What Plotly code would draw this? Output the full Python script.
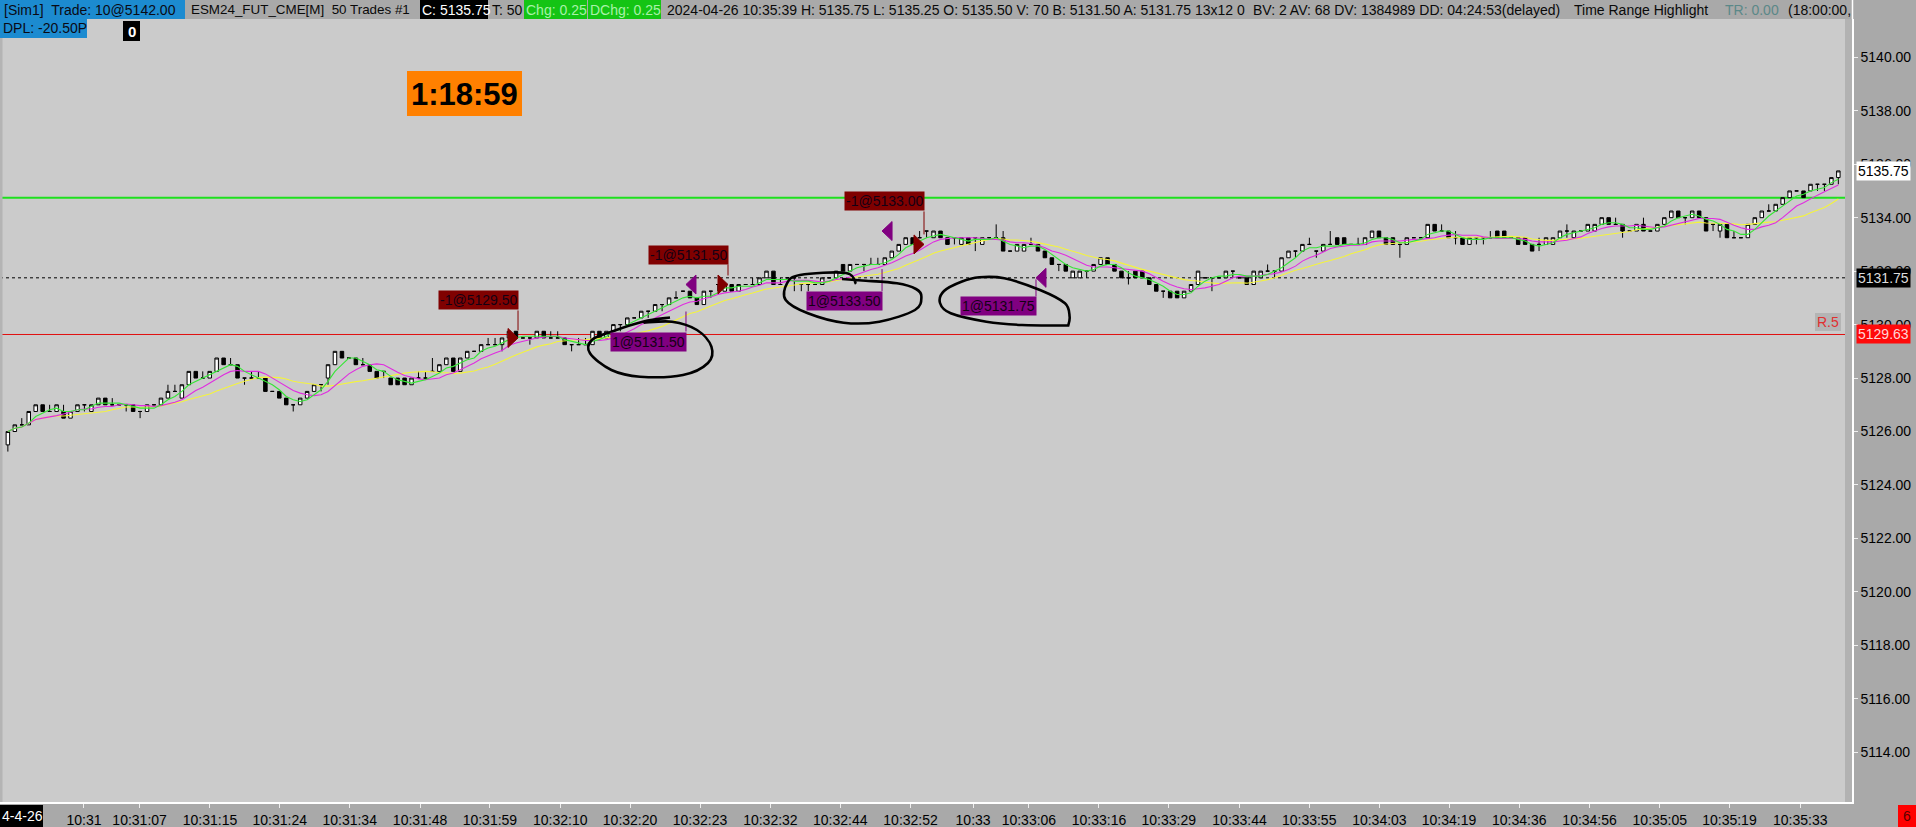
import plotly.graph_objects as go
import pandas as pd

# ---------------- data (50-trade bars, ESM24) ----------------
opens = [
    5125.50, 5126.00, 5126.25, 5126.25, 5126.75, 5127.00, 5126.75, 5126.75, 5126.75, 5126.50,
    5126.75, 5127.00, 5126.75, 5127.00, 5127.25, 5127.00, 5127.00, 5127.00, 5127.00, 5126.75,
    5126.75, 5127.00, 5127.00, 5127.25, 5127.50, 5127.25, 5127.75, 5128.25, 5128.00, 5128.00,
    5128.25, 5128.75, 5128.50, 5128.50, 5128.00, 5128.00, 5128.00, 5128.00, 5127.50, 5127.50,
    5127.25, 5127.00, 5127.00, 5127.25, 5127.50, 5127.75, 5128.00, 5128.50, 5129.00, 5128.75,
    5128.75, 5128.50, 5128.50, 5128.25, 5128.25, 5128.00, 5128.00, 5128.00, 5127.75, 5128.00,
    5128.00, 5128.25, 5128.25, 5128.50, 5128.75, 5128.25, 5128.75, 5129.00, 5129.00, 5129.25,
    5129.25, 5129.25, 5129.50, 5129.75, 5129.50, 5129.50, 5129.50, 5129.75, 5129.50, 5129.50,
    5129.50, 5129.25, 5129.25, 5129.25, 5129.25, 5129.75, 5129.50, 5129.75, 5130.00, 5130.00,
    5130.25, 5130.25, 5130.50, 5130.50, 5130.75, 5130.75, 5131.00, 5131.25, 5131.25, 5131.00,
    5130.75, 5131.25, 5131.50, 5131.25, 5131.50, 5131.25, 5131.50, 5131.50, 5131.50, 5131.75,
    5132.00, 5131.50, 5131.75, 5131.75, 5131.50, 5131.50, 5131.50, 5131.50, 5131.75, 5131.75,
    5132.25, 5132.00, 5132.25, 5132.25, 5132.25, 5132.25, 5132.25, 5132.50, 5132.75, 5133.00,
    5133.25, 5133.25, 5133.50, 5133.25, 5133.50, 5133.25, 5133.25, 5133.00, 5133.25, 5133.25,
    5133.00, 5133.25, 5133.25, 5133.25, 5132.75, 5132.75, 5132.75, 5133.00, 5133.00, 5132.75,
    5132.50, 5132.25, 5132.25, 5131.75, 5131.75, 5132.00, 5132.00, 5132.25, 5132.50, 5132.25,
    5132.00, 5131.75, 5132.00, 5132.00, 5131.75, 5131.50, 5131.25, 5131.25, 5131.25, 5131.00,
    5131.25, 5131.50, 5131.75, 5131.75, 5131.75, 5131.75, 5132.00, 5131.75, 5131.75, 5131.50,
    5131.75, 5132.00, 5132.00, 5132.00, 5132.50, 5132.75, 5132.75, 5133.00, 5132.75, 5132.75,
    5133.00, 5133.25, 5133.25, 5133.00, 5133.00, 5133.00, 5133.25, 5133.50, 5133.25, 5133.25,
    5133.00, 5133.00, 5133.25, 5133.25, 5133.25, 5133.75, 5133.50, 5133.50, 5133.25, 5133.25,
    5133.00, 5133.25, 5133.25, 5133.25, 5133.50, 5133.50, 5133.25, 5133.25, 5133.25, 5133.00,
    5133.00, 5133.00, 5133.00, 5133.25, 5133.50, 5133.25, 5133.50, 5133.50, 5133.50, 5133.75,
    5134.00, 5133.75, 5133.75, 5133.50, 5133.50, 5133.75, 5133.50, 5133.50, 5133.75, 5134.00,
    5134.25, 5134.00, 5134.00, 5134.25, 5134.00, 5133.75, 5133.50, 5133.75, 5133.25, 5133.25,
    5133.25, 5133.75, 5134.00, 5134.25, 5134.25, 5134.50, 5134.75, 5135.00, 5135.00, 5135.00,
    5135.25, 5135.25, 5135.25, 5135.50,
]
highs = [
    5126.00, 5126.25, 5126.50, 5126.75, 5127.00, 5127.00, 5127.00, 5127.00, 5127.00, 5126.75,
    5127.00, 5127.00, 5127.00, 5127.25, 5127.25, 5127.25, 5127.00, 5127.00, 5127.00, 5126.75,
    5127.00, 5127.00, 5127.25, 5127.75, 5127.75, 5127.75, 5128.25, 5128.25, 5128.25, 5128.25,
    5128.75, 5128.75, 5128.75, 5128.50, 5128.00, 5128.25, 5128.25, 5128.00, 5127.50, 5127.50,
    5127.25, 5127.00, 5127.25, 5127.50, 5127.75, 5127.75, 5128.50, 5129.00, 5129.00, 5128.75,
    5128.75, 5128.75, 5128.50, 5128.25, 5128.25, 5128.00, 5128.00, 5128.00, 5128.00, 5128.25,
    5128.25, 5128.75, 5128.50, 5128.75, 5128.75, 5128.75, 5129.00, 5129.00, 5129.25, 5129.50,
    5129.50, 5129.50, 5129.75, 5129.75, 5129.50, 5129.50, 5129.75, 5129.75, 5129.75, 5129.75,
    5129.50, 5129.25, 5129.50, 5129.50, 5129.75, 5129.75, 5129.75, 5130.00, 5130.00, 5130.25,
    5130.25, 5130.50, 5130.50, 5130.75, 5130.75, 5131.00, 5131.25, 5131.25, 5131.25, 5131.00,
    5131.25, 5131.25, 5131.50, 5131.50, 5131.50, 5131.50, 5131.50, 5131.75, 5131.75, 5132.00,
    5132.00, 5131.75, 5131.75, 5131.75, 5131.50, 5131.50, 5131.50, 5131.75, 5131.75, 5132.00,
    5132.25, 5132.25, 5132.25, 5132.25, 5132.50, 5132.50, 5132.50, 5132.75, 5133.00, 5133.25,
    5133.25, 5133.50, 5133.50, 5133.50, 5133.50, 5133.25, 5133.25, 5133.25, 5133.25, 5133.25,
    5133.25, 5133.25, 5133.75, 5133.50, 5132.75, 5133.00, 5133.00, 5133.25, 5133.00, 5132.75,
    5132.50, 5132.25, 5132.25, 5132.00, 5132.00, 5132.00, 5132.25, 5132.50, 5132.50, 5132.25,
    5132.00, 5132.00, 5132.00, 5132.00, 5131.75, 5131.50, 5131.25, 5131.25, 5131.25, 5131.25,
    5131.50, 5132.00, 5131.75, 5131.75, 5131.75, 5132.00, 5132.00, 5131.75, 5131.75, 5132.00,
    5132.00, 5132.25, 5132.00, 5132.50, 5132.75, 5132.75, 5133.00, 5133.25, 5132.75, 5133.00,
    5133.50, 5133.25, 5133.25, 5133.00, 5133.25, 5133.25, 5133.50, 5133.50, 5133.25, 5133.25,
    5133.00, 5133.25, 5133.25, 5133.25, 5133.75, 5133.75, 5133.75, 5133.50, 5133.50, 5133.25,
    5133.25, 5133.25, 5133.25, 5133.50, 5133.50, 5133.50, 5133.25, 5133.25, 5133.25, 5133.00,
    5133.25, 5133.25, 5133.25, 5133.50, 5133.75, 5133.50, 5133.50, 5133.75, 5133.75, 5134.00,
    5134.00, 5134.00, 5133.75, 5133.50, 5133.75, 5134.00, 5133.50, 5133.75, 5134.00, 5134.25,
    5134.25, 5134.00, 5134.25, 5134.25, 5134.00, 5133.75, 5133.75, 5133.75, 5133.50, 5133.25,
    5133.75, 5134.00, 5134.25, 5134.50, 5134.50, 5134.75, 5135.00, 5135.00, 5135.00, 5135.25,
    5135.25, 5135.25, 5135.50, 5135.75,
]
lows = [
    5125.25, 5126.00, 5126.25, 5126.25, 5126.75, 5126.75, 5126.75, 5126.75, 5126.50, 5126.50,
    5126.75, 5126.75, 5126.75, 5127.00, 5127.00, 5127.00, 5127.00, 5126.75, 5126.75, 5126.50,
    5126.75, 5127.00, 5127.00, 5127.25, 5127.50, 5127.25, 5127.75, 5128.00, 5128.00, 5128.00,
    5128.25, 5128.50, 5128.50, 5128.00, 5127.75, 5128.00, 5128.00, 5127.50, 5127.50, 5127.25,
    5127.00, 5126.75, 5127.00, 5127.25, 5127.50, 5127.50, 5127.75, 5128.50, 5128.75, 5128.75,
    5128.50, 5128.50, 5128.25, 5128.00, 5128.00, 5127.75, 5127.75, 5127.75, 5127.75, 5128.00,
    5128.00, 5128.25, 5128.25, 5128.50, 5128.25, 5128.25, 5128.75, 5129.00, 5129.00, 5129.25,
    5129.25, 5129.00, 5129.50, 5129.50, 5129.50, 5129.25, 5129.50, 5129.50, 5129.50, 5129.50,
    5129.25, 5129.00, 5129.25, 5129.25, 5129.25, 5129.50, 5129.50, 5129.75, 5129.75, 5130.00,
    5130.25, 5130.25, 5130.25, 5130.50, 5130.50, 5130.75, 5131.00, 5131.25, 5131.00, 5130.75,
    5130.75, 5131.00, 5131.25, 5131.25, 5131.25, 5131.25, 5131.50, 5131.50, 5131.50, 5131.75,
    5131.50, 5131.50, 5131.75, 5131.25, 5131.25, 5131.25, 5131.50, 5131.50, 5131.75, 5131.75,
    5132.00, 5132.00, 5132.25, 5132.00, 5132.25, 5132.25, 5132.25, 5132.50, 5132.75, 5133.00,
    5133.00, 5133.25, 5133.25, 5133.25, 5133.25, 5133.00, 5133.00, 5133.00, 5133.00, 5132.75,
    5133.00, 5133.25, 5133.25, 5132.75, 5132.75, 5132.75, 5132.75, 5133.00, 5132.75, 5132.50,
    5132.25, 5132.00, 5132.00, 5131.75, 5131.75, 5131.75, 5132.00, 5132.25, 5132.25, 5132.00,
    5131.75, 5131.50, 5131.75, 5131.75, 5131.50, 5131.25, 5131.00, 5131.00, 5131.00, 5131.00,
    5131.25, 5131.50, 5131.75, 5131.25, 5131.75, 5131.75, 5131.75, 5131.75, 5131.50, 5131.50,
    5131.75, 5132.00, 5131.75, 5132.00, 5132.50, 5132.50, 5132.75, 5133.00, 5132.50, 5132.75,
    5133.00, 5133.00, 5133.00, 5133.00, 5133.00, 5133.00, 5133.25, 5133.25, 5133.00, 5133.00,
    5132.50, 5133.00, 5133.25, 5133.25, 5133.25, 5133.50, 5133.50, 5133.25, 5133.00, 5133.00,
    5133.00, 5133.00, 5133.00, 5133.25, 5133.25, 5133.25, 5133.25, 5133.00, 5133.00, 5132.75,
    5132.75, 5133.00, 5133.00, 5133.25, 5133.25, 5133.25, 5133.50, 5133.50, 5133.50, 5133.75,
    5133.75, 5133.75, 5133.25, 5133.50, 5133.50, 5133.50, 5133.50, 5133.50, 5133.75, 5134.00,
    5134.00, 5133.75, 5134.00, 5134.00, 5133.50, 5133.50, 5133.25, 5133.25, 5133.25, 5133.25,
    5133.25, 5133.75, 5134.00, 5134.25, 5134.25, 5134.50, 5134.75, 5135.00, 5134.75, 5135.00,
    5135.00, 5135.00, 5135.25, 5135.25,
]
closes = [
    5126.00, 5126.25, 5126.25, 5126.75, 5127.00, 5126.75, 5126.75, 5127.00, 5126.50, 5126.75,
    5127.00, 5127.00, 5127.00, 5127.25, 5127.00, 5127.00, 5127.00, 5127.00, 5126.75, 5126.75,
    5127.00, 5127.00, 5127.25, 5127.50, 5127.50, 5127.75, 5128.25, 5128.00, 5128.00, 5128.25,
    5128.75, 5128.50, 5128.50, 5128.00, 5128.00, 5128.00, 5128.00, 5127.50, 5127.50, 5127.25,
    5127.00, 5127.00, 5127.25, 5127.50, 5127.75, 5127.75, 5128.50, 5129.00, 5128.75, 5128.75,
    5128.50, 5128.50, 5128.25, 5128.00, 5128.25, 5127.75, 5127.75, 5127.75, 5128.00, 5128.00,
    5128.00, 5128.25, 5128.50, 5128.75, 5128.25, 5128.75, 5129.00, 5129.00, 5129.25, 5129.25,
    5129.25, 5129.50, 5129.75, 5129.50, 5129.50, 5129.50, 5129.75, 5129.50, 5129.50, 5129.50,
    5129.25, 5129.25, 5129.25, 5129.25, 5129.75, 5129.50, 5129.75, 5130.00, 5130.00, 5130.25,
    5130.25, 5130.50, 5130.50, 5130.75, 5130.75, 5131.00, 5131.00, 5131.25, 5131.00, 5130.75,
    5131.25, 5131.25, 5131.50, 5131.50, 5131.25, 5131.50, 5131.50, 5131.50, 5131.75, 5132.00,
    5131.50, 5131.50, 5131.75, 5131.75, 5131.50, 5131.50, 5131.50, 5131.75, 5131.75, 5132.00,
    5132.00, 5132.25, 5132.25, 5132.25, 5132.25, 5132.25, 5132.50, 5132.75, 5133.00, 5133.25,
    5133.00, 5133.25, 5133.50, 5133.50, 5133.25, 5133.00, 5133.25, 5133.25, 5133.00, 5133.25,
    5133.25, 5133.25, 5133.25, 5132.75, 5132.75, 5133.00, 5133.00, 5133.00, 5132.75, 5132.50,
    5132.25, 5132.25, 5132.00, 5132.00, 5132.00, 5132.00, 5132.25, 5132.50, 5132.25, 5132.00,
    5131.75, 5131.75, 5131.75, 5131.75, 5131.50, 5131.25, 5131.25, 5131.00, 5131.00, 5131.25,
    5131.50, 5132.00, 5131.75, 5131.75, 5131.75, 5132.00, 5132.00, 5131.75, 5131.50, 5132.00,
    5132.00, 5132.00, 5132.00, 5132.50, 5132.75, 5132.75, 5133.00, 5133.00, 5132.75, 5133.00,
    5133.00, 5133.00, 5133.00, 5133.00, 5133.00, 5133.25, 5133.50, 5133.25, 5133.00, 5133.00,
    5133.00, 5133.25, 5133.25, 5133.25, 5133.75, 5133.50, 5133.50, 5133.25, 5133.25, 5133.00,
    5133.25, 5133.25, 5133.25, 5133.25, 5133.25, 5133.25, 5133.25, 5133.00, 5133.00, 5132.75,
    5133.00, 5133.25, 5133.25, 5133.50, 5133.50, 5133.50, 5133.50, 5133.75, 5133.75, 5134.00,
    5133.75, 5133.75, 5133.50, 5133.50, 5133.75, 5133.50, 5133.50, 5133.75, 5134.00, 5134.25,
    5134.00, 5134.00, 5134.25, 5134.00, 5133.50, 5133.75, 5133.75, 5133.25, 5133.25, 5133.25,
    5133.75, 5134.00, 5134.25, 5134.25, 5134.50, 5134.75, 5135.00, 5135.00, 5134.75, 5135.25,
    5135.25, 5135.25, 5135.50, 5135.75,
]

x_tick_labels = ["10:31", "10:31:07", "10:31:15", "10:31:24", "10:31:34", "10:31:48", "10:31:59",
                 "10:32:10", "10:32:20", "10:32:23", "10:32:32", "10:32:44", "10:32:52", "10:33",
                 "10:33:06", "10:33:16", "10:33:29", "10:33:44", "10:33:55", "10:34:03", "10:34:19",
                 "10:34:36", "10:34:56", "10:35:05", "10:35:19", "10:35:33"]
x_tick_bars = [10.93, 18.93, 29.04, 39.07, 49.11, 59.23, 69.26, 79.37, 89.40, 99.45, 109.56,
               119.59, 129.70, 138.68, 146.70, 156.77, 166.79, 176.97, 186.97, 197.06, 207.06,
               217.16, 227.26, 237.35, 247.35, 257.53]
y_tick_values = [5114, 5116, 5118, 5120, 5122, 5124, 5126, 5128, 5130, 5132, 5134, 5136, 5138, 5140]

trade_texts = ["-1@5129.50", "1@5131.50", "-1@5131.50", "1@5133.50", "-1@5133.00", "1@5131.75"]
trade_prices = [5129.50, 5131.50, 5131.50, 5133.50, 5133.00, 5131.75]
trade_sides = ["sell", "buy", "sell", "buy", "sell", "buy"]
trade_bars = [73.30, 97.43, 103.47, 125.60, 131.63, 147.72]

level_green = 5134.75
level_red = 5129.63
level_dashed = 5131.75
last_price = 5135.75
timer_text = "1:18:59"

# ---------------- geometry (pixels) ----------------
W, H = 1916, 827
PL, PR, PT, PB = 0, 1852, 19, 802
BAR0, BARW = 7.86, 6.96
PY0, PRICE0, PPT = 57.3, 5140.0, 26.73
FONT = "Liberation Sans, Arial, sans-serif"

x_range = [(PL - BAR0) / BARW, (PR - BAR0) / BARW]
y_range = [PRICE0 - (PB - PY0) / PPT, PRICE0 + (PY0 - PT) / PPT]


def fx(px):
    return (px - PL) / (PR - PL)


def fy(py):
    return (PB - py) / (PB - PT)


shapes = []
annotations = []


def rect_px(x0, y0, x1, y1, fill, layer="above"):
    shapes.append(dict(type="rect", xref="paper", yref="paper", x0=fx(x0), x1=fx(x1),
                       y0=fy(y1), y1=fy(y0), fillcolor=fill, line=dict(width=0), layer=layer))


def text_px(x, y, s, color, size=14, anchor="left"):
    annotations.append(dict(xref="paper", yref="paper", x=fx(x), y=fy(y), xanchor=anchor,
                            yanchor="middle", text=s, showarrow=False, borderpad=0,
                            font=dict(family=FONT, size=size, color=color)))


def smooth_path(pts):
    P = [(fx(a), fy(b)) for a, b in pts]
    d = "M %.5f,%.5f" % P[0]
    for i in range(len(P) - 1):
        p0 = P[i - 1] if i > 0 else P[i]
        p1, p2 = P[i], P[i + 1]
        p3 = P[i + 2] if i + 2 < len(P) else P[i + 1]
        c1 = (p1[0] + (p2[0] - p0[0]) / 6, p1[1] + (p2[1] - p0[1]) / 6)
        c2 = (p2[0] - (p3[0] - p1[0]) / 6, p2[1] - (p3[1] - p1[1]) / 6)
        d += " C %.5f,%.5f %.5f,%.5f %.5f,%.5f" % (c1 + c2 + p2)
    return d


# ---------------- traces ----------------
n = len(closes)
bars = list(range(n))
cl = pd.Series(closes)
ma_fast = cl.rolling(4, min_periods=1).mean()
ma_mid = cl.rolling(8, min_periods=1).mean()
ma_slow = cl.rolling(15, min_periods=1).mean()

fig = go.Figure()
fig.add_trace(go.Candlestick(
    x=bars, open=opens, high=highs, low=lows, close=closes,
    increasing=dict(fillcolor="#ffffff", line=dict(color="#000000", width=1)),
    decreasing=dict(fillcolor="#000000", line=dict(color="#000000", width=1)),
    whiskerwidth=0, hoverinfo="skip", showlegend=False))
fig.add_trace(go.Scatter(x=bars, y=ma_slow, mode="lines", line=dict(color="#f4f43c", width=1.1),
                         hoverinfo="skip", showlegend=False))
fig.add_trace(go.Scatter(x=bars, y=ma_mid, mode="lines", line=dict(color="#e02ce0", width=1.1),
                         hoverinfo="skip", showlegend=False))
fig.add_trace(go.Scatter(x=bars, y=ma_fast, mode="lines", line=dict(color="#36e636", width=1.1),
                         hoverinfo="skip", showlegend=False))

# ---------------- horizontal levels ----------------
x_end = fx(1845)
shapes.append(dict(type="line", xref="paper", yref="y", x0=0, x1=x_end, y0=level_red, y1=level_red,
                   line=dict(color="#e01010", width=1), layer="below"))
shapes.append(dict(type="line", xref="paper", yref="y", x0=0, x1=x_end, y0=level_dashed, y1=level_dashed,
                   line=dict(color="#000000", width=1, dash="3px,3px"), layer="below"))
shapes.append(dict(type="line", xref="paper", yref="y", x0=0, x1=x_end, y0=level_green, y1=level_green,
                   line=dict(color="#1ee01e", width=2), layer="below"))

# right strip, left border, white frame
rect_px(1845, PT, PR, PB, "#b2b2b2")
rect_px(0, PT, 2.5, PB, "#b4b4b4")
shapes.append(dict(type="line", xref="paper", yref="paper", x0=fx(1852.5), x1=fx(1852.5),
                   y0=fy(0), y1=fy(PT), line=dict(color="#ffffff", width=1.5)))

# ---------------- trades ----------------
label_dy = [-37.5, 57, -30, 70, -43, 28.5]      # label centre offset from marker (px, +down)
conn_len = [20, 20, 11, 22, 23, 17]             # connector length (px)
tri_w, tri_h = 10 / BARW, 9.5 / PPT
for b, p, t, side, dy, cl_len in zip(trade_bars, trade_prices, trade_texts, trade_sides, label_dy, conn_len):
    col = "#800000" if side == "sell" else "#800080"
    if side == "sell":
        path = "M %.4f,%.4f L %.4f,%.4f L %.4f,%.4f Z" % (b - tri_w, p + tri_h, b, p, b - tri_w, p - tri_h)
    else:
        path = "M %.4f,%.4f L %.4f,%.4f L %.4f,%.4f Z" % (b + tri_w, p + tri_h, b, p, b + tri_w, p - tri_h)
    shapes.append(dict(type="path", xref="x", yref="y", path=path, fillcolor=col,
                       line=dict(color=col, width=1), layer="above"))
    edge = dy + (10 if dy < 0 else -10)
    y_edge = p - edge / PPT
    y_far = p - (edge + (cl_len if dy < 0 else -cl_len)) / PPT
    shapes.append(dict(type="line", xref="x", yref="y", x0=b, x1=b, y0=y_edge, y1=y_far,
                       line=dict(color=col, width=1), layer="above"))
    annotations.append(dict(xref="x", yref="y", x=b, y=p, xanchor="right", yanchor="middle",
                            xshift=1, yshift=-dy, text=t, showarrow=False, bgcolor=col, borderpad=1,
                            font=dict(family=FONT, size=14, color="#140014")))

# hand-drawn loops
loops = [
    [(643.6, 322.7), (672, 321.7), (697, 330), (711.4, 346.7), (708, 363), (683, 375), (640, 376.7),
     (611.4, 370), (590, 353.3), (591.8, 340), (611.4, 331.7), (643.6, 321.5), (670, 317.5)],
    [(856, 284), (846, 273), (800, 275), (787, 283.3), (785.7, 300), (807.9, 313.3), (843.6, 322.7),
     (879.3, 321.7), (915, 310), (921.4, 296.7), (916, 289), (897, 283.3), (862, 280.5), (842, 279)],
    [(1068.6, 325.5), (1022, 325), (986.4, 321.7), (950.7, 313.3), (940, 303), (944, 291), (961.4, 281.7),
     (979.3, 277.3), (1004.3, 278.3), (1040, 290), (1065, 303.3), (1069.6, 316.7), (1068, 326.5)],
]
for pts in loops:
    shapes.append(dict(type="path", xref="paper", yref="paper", path=smooth_path(pts),
                       line=dict(color="#000000", width=2.6), layer="above"))

# ---------------- header ----------------
rect_px(0, 0, 185, 19, "#1c8bd0")
rect_px(420, 0, 488, 19, "#000000")
rect_px(524, 0, 587, 19, "#14c414")
rect_px(588, 0, 661, 19, "#14c414")
header = [
    ("[Sim1]&nbsp; Trade: 10@5142.00", 3, "#0a0a14", 14),
    ("ESM24_FUT_CME[M]&nbsp; 50 Trades #1", 190, "#0a0a0a", 13.4),
    ("C: 5135.75", 421, "#ffffff", 14),
    ("T: 50", 491, "#0a0a0a", 14),
    ("Chg: 0.25", 525, "#a8f2a8", 14),
    ("DChg: 0.25", 589, "#a8f2a8", 14),
    ("2024-04-26 10:35:39 H: 5135.75 L: 5135.25 O: 5135.50 V: 70 B: 5131.50 A: 5131.75 13x12 0", 666, "#0a0a0a", 14),
    ("BV: 2 AV: 68 DV: 1384989 DD: 04:24:53(delayed)", 1252, "#0a0a0a", 14),
    ("Time Range Highlight", 1573, "#0a0a0a", 14),
    ("TR: 0.00", 1724, "#5b8888", 14),
    ("(18:00:00,", 1787, "#0a0a0a", 14),
]
for s, x0, c, fs in header:
    text_px(x0, 9.5, s, c, size=fs)

rect_px(0, 19, 87, 38, "#1c8bd0")
text_px(2, 28.5, "DPL: -20.50P", "#0a0a14")
rect_px(123, 21, 140, 41, "#000000")
text_px(131.5, 31, "<b>0</b>", "#ffffff", size=15, anchor="center")

# timer
rect_px(407, 71, 522, 116, "#ff8000")
text_px(464.5, 94, "<b>" + timer_text + "</b>", "#000000", size=31, anchor="center")

# R.5 label
rect_px(1815, 313, 1841, 331, "#b4b4b4")
text_px(1828, 322, "R.5", "#e03030", size=14, anchor="center")

# price boxes on axis
for v, bg, fg in [(last_price, "#ffffff", "#000000"), (level_dashed, "#000000", "#dcdcdc"),
                  (level_red, "#ff0a0a", "#ffd6d6")]:
    annotations.append(dict(xref="paper", yref="y", x=fx(1856), y=v, xanchor="left", yanchor="middle",
                            text="%.2f" % v, showarrow=False, bgcolor=bg, borderpad=1,
                            font=dict(family=FONT, size=14, color=fg)))

# bottom corner boxes
rect_px(0, 805, 43, 827, "#000000")
text_px(1, 816, "4-4-26", "#ffffff")
rect_px(1898, 805, 1916, 827, "#ff0000")
text_px(1907, 816, "6", "#5a0000", anchor="center")

fig.update_layout(
    width=W, height=H,
    margin=dict(l=PL, r=W - PR, t=PT, b=H - PB, pad=0),
    paper_bgcolor="#a9a9a9", plot_bgcolor="#cbcbcb",
    font=dict(family=FONT, size=14, color="#000000"),
    showlegend=False, hovermode=False, boxgap=0.28,
    shapes=shapes, annotations=annotations,
    xaxis=dict(range=x_range, tickmode="array", tickvals=x_tick_bars, ticktext=x_tick_labels,
               ticks="outside", ticklen=4, tickcolor="#eeeeee", tickangle=0,
               showline=True, linecolor="#ffffff", linewidth=1.5, showgrid=False, zeroline=False,
               rangeslider=dict(visible=False), tickfont=dict(family=FONT, size=14, color="#000000")),
    yaxis=dict(range=y_range, side="right", tickmode="array", tickvals=y_tick_values,
               ticktext=["%.2f" % v for v in y_tick_values], ticks="outside", ticklen=4,
               tickcolor="#eeeeee", showline=True, linecolor="#ffffff", linewidth=1.5,
               showgrid=False, zeroline=False, tickfont=dict(family=FONT, size=14, color="#000000")),
)

fig.write_html("out.html", config={"displayModeBar": False},
               post_script="document.body.style.margin='0';document.body.style.overflow='hidden';")
